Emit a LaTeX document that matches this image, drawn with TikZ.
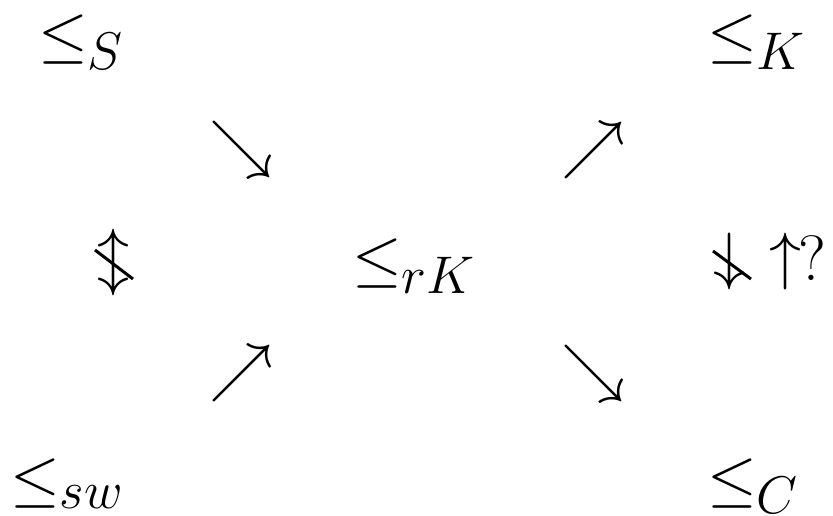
\documentclass[tikz,border=0pt]{standalone}
\usepackage{fix-cm}
\DeclareMathSizes{64}{64}{53}{42}
\begin{document}
\begin{tikzpicture}[x=1pt,y=-1pt,
  lbl/.style={inner sep=0pt,font=\fontsize{64}{76}\selectfont},
  rel/.style={lbl,anchor=base west},
  neg/.style={line width=3pt}]
\useasboundingbox (0,0) rectangle (833,515);
\node[rel] (S) at (38,55) {$\leq_S$};
\node[rel] (K) at (707,55) {$\leq_K$};
\node[rel] (rK) at (352,279) {$\leq_{rK}$};
\node[rel] (sw) at (10,499) {$\leq_{sw}$};
\node[rel] (C) at (707,499) {$\leq_C$};
\node[lbl] (a1) at (241,149) {$\searrow$};
\node[lbl] (a2) at (593,150) {$\nearrow$};
\node[lbl] (a3) at (241,373) {$\nearrow$};
\node[lbl] (a4) at (593,373) {$\searrow$};
\node[lbl] (ud) at (113,262) {$\updownarrow$};
\draw[neg] (95,250) -- (133,279);
\node[lbl] (dn) at (729,261) {$\downarrow$};
\draw[neg] (713,251) -- (751,279);
\node[lbl] (up) at (785,261) {$\uparrow$};
\node[lbl] (q) at (812,258) {?};
\end{tikzpicture}
\end{document}
